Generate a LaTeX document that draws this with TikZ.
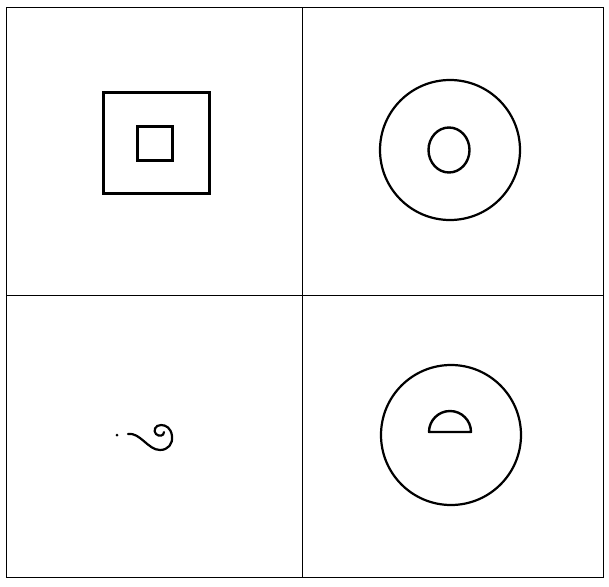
\documentclass[tikz,border=0pt]{standalone}
\usetikzlibrary{positioning, shapes.geometric}

\begin{document}
\begin{tikzpicture}[
  x=1pt, y=-1pt,
  every node/.style={inner sep=0pt, outer sep=0pt},
  frame/.style={draw, line width=1pt},
  sq/.style={draw, line width=3pt, rectangle},
  ring/.style={draw, line width=2.2pt, circle}
]
  \useasboundingbox (0,0) rectangle (609,586);
  % panels
  \node[frame, minimum width=597pt, minimum height=569pt] (Outer) at (304.5,292.5) {};
  \draw[frame] (Outer.north) ++(-2,0) coordinate (Vtop) -- (Vtop |- Outer.south);
  \draw[frame] (Outer.west) ++(0,2.5) coordinate (Hleft) -- (Hleft -| Outer.east);
  % top left: square in square
  \node[sq, minimum width=106pt, minimum height=101pt] (BigSq) at (156,142.5) {};
  \node[sq, minimum width=35pt, minimum height=34pt] (SmallSq) at (154.5,143) {};
  % top right: circle in circle
  \node[ring, minimum size=140pt] (BigRing) at (450,150) {};
  \node[draw, line width=2.4pt, ellipse, minimum width=41pt, minimum height=45pt] (SmallRing) at (449,150) {};
  % bottom left: curl
  \fill (117,435) circle (1.5);
  \draw[line width=2.2pt, line cap=round]
    (128,434) .. controls (140,432) and (148,450) .. (160,450)
    .. controls (168,450) and (173,444) .. (172,436)
    .. controls (171,428) and (166,425) .. (161,425)
    .. controls (155,425) and (153,431) .. (156,434)
    .. controls (159,437) and (164,436) .. (164,432);
  % bottom right: half disc in circle
  \node[ring, minimum size=140pt] (LowRing) at (451,435) {};
  \draw[line width=2.4pt, line join=round] (429,432) arc[start angle=180, end angle=360, radius=21] -- cycle;
\end{tikzpicture}
\end{document}
